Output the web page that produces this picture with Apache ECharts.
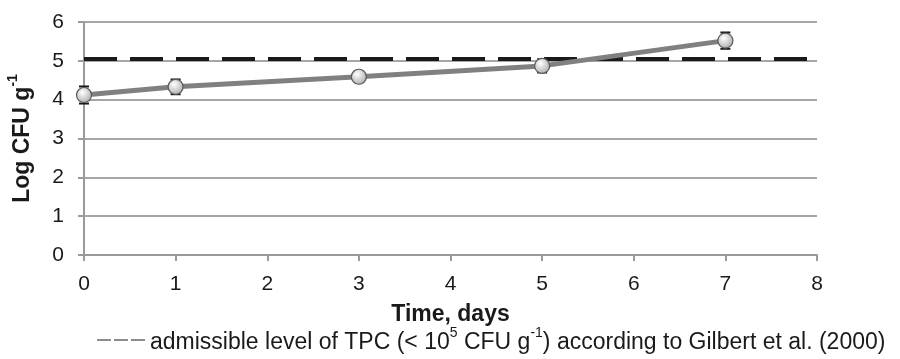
<!DOCTYPE html>
<html>
<head>
<meta charset="utf-8">
<script src="https://cdn.jsdelivr.net/npm/echarts@6/dist/echarts.min.js"></script>
<style>
  html, body { margin: 0; padding: 0; background: #fff; }
  #chart { width: 900px; height: 359px; }
</style>
</head>
<body>
<div id="chart"></div>
<script>
// storage time (days) and log counts
var days = [0, 1, 3, 5, 7];
var logCfu = [4.12, 4.33, 4.59, 4.87, 5.52];
var errSd = [0.22, 0.19, 0.14, 0.17, 0.21];
// admissible level line
var limitDays = [0, 8];
var limitLevel = [5.05, 5.05];
var xTicks = [0, 1, 2, 3, 4, 5, 6, 7, 8];
var yTicks = [0, 1, 2, 3, 4, 5, 6];

var FONT = 'Liberation Sans';
var INK = '#1a1a1a';
var chart = echarts.init(document.getElementById('chart'));

var meanData = days.map(function (d, i) { return [d, logCfu[i]]; });
var errData = days.map(function (d, i) { return [d, logCfu[i] - errSd[i], logCfu[i] + errSd[i]]; });
var limitData = limitDays.map(function (d, i) { return [d, limitLevel[i]]; });

var option = {
  backgroundColor: '#fff',
  animation: false,
  grid: { left: 84, right: 83, top: 22, bottom: 104, outerBoundsMode: 'none', containLabel: false },
  xAxis: {
    type: 'value',
    min: xTicks[0],
    max: xTicks[xTicks.length - 1],
    interval: 1,
    name: 'Time, days',
    nameLocation: 'middle',
    nameGap: 48,
    nameTextStyle: { fontFamily: FONT, fontSize: 23, fontWeight: 'bold', color: INK },
    axisLine: { lineStyle: { color: '#9a9a9a', width: 2 } },
    axisTick: { show: true, length: 6, lineStyle: { color: '#9a9a9a', width: 2 } },
    axisLabel: { fontFamily: FONT, fontSize: 21, color: INK, margin: 19 },
    splitLine: { show: false }
  },
  yAxis: {
    type: 'value',
    min: yTicks[0],
    max: yTicks[yTicks.length - 1],
    interval: 1,
    name: '{b|Log CFU g}{s|-1}',
    nameLocation: 'middle',
    nameGap: 50,
    nameRotate: 90,
    nameTextStyle: {
      rich: {
        b: { fontFamily: FONT, fontSize: 23, fontWeight: 'bold', color: INK, lineHeight: 28, verticalAlign: 'bottom' },
        s: { fontFamily: FONT, fontSize: 14, fontWeight: 'bold', color: INK, lineHeight: 28, verticalAlign: 'top', padding: [0, 0, 12, 0] }
      }
    },
    axisLine: { show: true, lineStyle: { color: '#9a9a9a', width: 2 } },
    axisTick: { show: true, length: 6, lineStyle: { color: '#9a9a9a', width: 2 } },
    axisLabel: { fontFamily: FONT, fontSize: 21, color: INK, margin: 20 },
    splitLine: { show: true, lineStyle: { color: '#a6a6a6', width: 2 } }
  },
  legend: {
    left: 92,
    bottom: 0,
    itemWidth: 48,
    itemHeight: 3,
    itemGap: 8,
    data: [{ name: 'limit', icon: 'path://M0,0 h14 v1 h-14 z M17,0 h14 v1 h-14 z M34,0 h14 v1 h-14 z' }],
    itemStyle: { color: INK },
    formatter: function () {
      return '{t|admissible level of TPC (< 10}{s|5}{t| CFU g}{s|-1}{t|) according to Gilbert et al. (2000)}';
    },
    textStyle: {
      rich: {
        t: { fontFamily: FONT, fontSize: 23, color: INK, lineHeight: 28, verticalAlign: 'bottom' },
        s: { fontFamily: FONT, fontSize: 14, color: INK, lineHeight: 28, verticalAlign: 'top', padding: [0, 0, 12, 0] }
      }
    }
  },
  series: [
    {
      name: 'limit',
      type: 'line',
      data: limitData,
      symbol: 'none',
      silent: true,
      z: 2,
      lineStyle: { color: INK, width: 4, type: [33, 13], dashOffset: 0 }
    },
    {
      name: 'TPC',
      type: 'line',
      data: meanData,
      symbol: 'circle',
      symbolSize: 15,
      z: 4,
      lineStyle: { color: '#808080', width: 5 },
      itemStyle: {
        color: new echarts.graphic.RadialGradient(0.4, 0.35, 0.7, [
          { offset: 0, color: '#ffffff' },
          { offset: 1, color: '#a8a8a8' }
        ]),
        borderColor: '#5a5a5a',
        borderWidth: 1.2
      }
    },
    {
      name: 'err',
      type: 'custom',
      data: errData,
      z: 3,
      renderItem: function (params, api) {
        var x = api.value(0);
        var lo = api.coord([x, api.value(1)]);
        var hi = api.coord([x, api.value(2)]);
        var w = 5;
        var st = { stroke: INK, lineWidth: 2 };
        return {
          type: 'group',
          children: [
            { type: 'line', shape: { x1: lo[0], y1: lo[1], x2: hi[0], y2: hi[1] }, style: st },
            { type: 'line', shape: { x1: lo[0] - w, y1: lo[1], x2: lo[0] + w, y2: lo[1] }, style: st },
            { type: 'line', shape: { x1: hi[0] - w, y1: hi[1], x2: hi[0] + w, y2: hi[1] }, style: st }
          ]
        };
      }
    }
  ]
};
chart.setOption(option);
</script>
</body>
</html>
